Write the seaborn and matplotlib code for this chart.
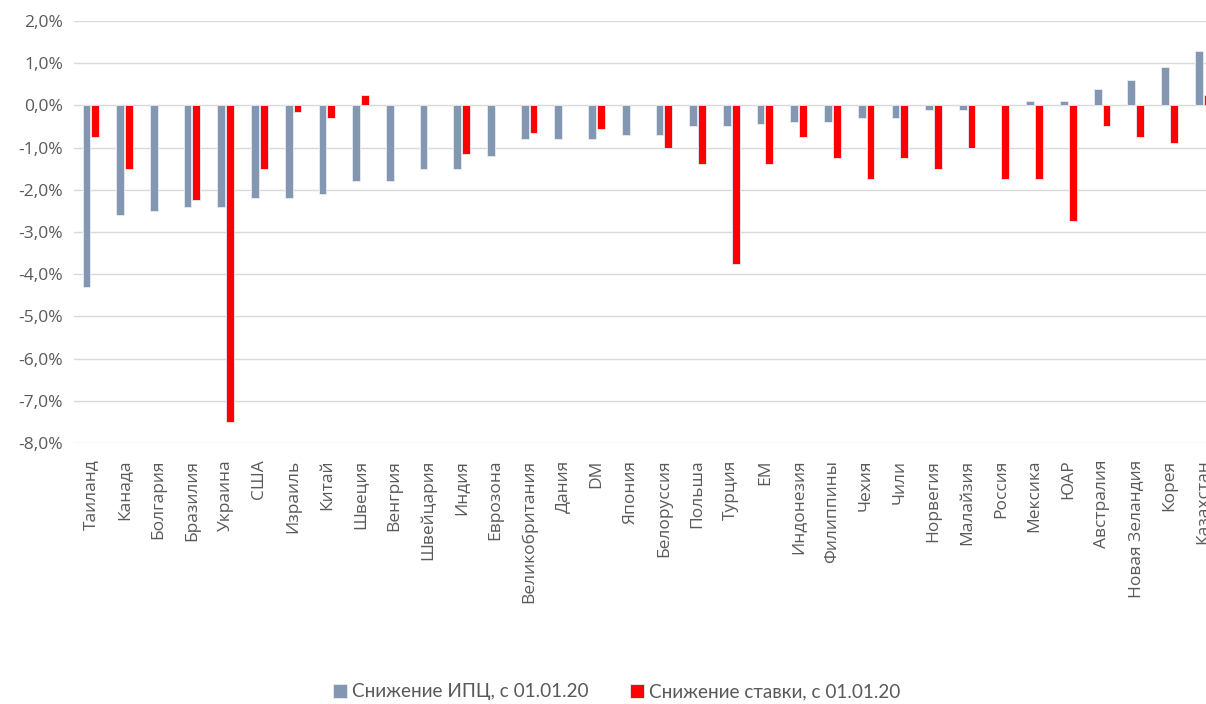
import pandas as pd
import numpy as np
import matplotlib
matplotlib.use("Agg")
import matplotlib.pyplot as plt
from matplotlib.ticker import FuncFormatter
import seaborn as sns

# данные (п.п.)
countries = ["Таиланд", "Канада", "Болгария", "Бразилия", "Украина", "США", "Израиль",
             "Китай", "Швеция", "Венгрия", "Швейцария", "Индия", "Еврозона",
             "Великобритания", "Дания", "DM", "Япония", "Белоруссия", "Польша", "Турция",
             "EM", "Индонезия", "Филиппины", "Чехия", "Чили", "Норвегия", "Малайзия",
             "Россия", "Мексика", "ЮАР", "Австралия", "Новая Зеландия", "Корея", "Казахстан"]
cpi = [-4.3, -2.6, -2.5, -2.4, -2.4, -2.2, -2.2, -2.1, -1.8, -1.8, -1.5, -1.5, -1.2,
       -0.8, -0.8, -0.8, -0.7, -0.7, -0.5, -0.5, -0.43, -0.4, -0.4, -0.3, -0.3, -0.1, -0.1,
       np.nan, 0.1, 0.1, 0.4, 0.6, 0.9, 1.3]
rate = [-0.75, -1.5, np.nan, -2.25, -7.5, -1.5, -0.15, -0.3, 0.25, np.nan, np.nan, -1.15, np.nan,
        -0.65, np.nan, -0.57, np.nan, -1.0, -1.4, -3.75, -1.4, -0.75, -1.25, -1.75, -1.25, -1.5, -1.0,
        -1.75, -1.75, -2.75, -0.5, -0.75, -0.9, 0.25]
series = ["Снижение ИПЦ, с 01.01.20", "Снижение ставки, с 01.01.20"]

df = pd.DataFrame({"country": countries * 2,
                   "value": cpi + rate,
                   "series": [series[0]] * len(countries) + [series[1]] * len(countries)})
df = df.dropna()

sns.set_style("white")
plt.rcParams['font.family'] = ['Open Sans', 'DejaVu Sans']

fig = plt.figure(figsize=(12.06, 7.04), dpi=100)
# правый край оси уходит за рамку, как в оригинале (Казахстан обрезан)
ax = fig.add_axes([74 / 1206, 1 - 443 / 704, 1146 / 1206, 422 / 704])

sns.barplot(data=df, x="country", y="value", hue="series", order=countries,
            hue_order=series, palette=["#8497B0", "#FF0000"], saturation=1,
            width=0.52, gap=0.12, edgecolor="#E8ECF2", linewidth=0.6, ax=ax, legend=True)

ax.set_ylim(-8, 2)
ax.set_yticks(np.arange(-8, 2.1, 1))
ax.yaxis.set_major_formatter(FuncFormatter(lambda v, p: f"{v:.1f}%".replace(".", ",")))
ax.set_xlim(-0.5, len(countries) - 0.5)
ax.grid(axis="y", color="#D9D9D9", linewidth=1)
ax.set_axisbelow(True)
for s in ax.spines.values():
    s.set_visible(False)
ax.set_xlabel("")
ax.set_ylabel("")
ax.tick_params(axis="both", length=0, colors="#595959", labelsize=12.5)
ax.tick_params(axis="x", pad=12)
ax.tick_params(axis="y", pad=8)
plt.setp(ax.get_xticklabels(), rotation=90, ha="center", va="top")

handles, labels = ax.get_legend_handles_labels()
ax.legend_.remove()
fig.legend(handles, labels, loc="center", bbox_to_anchor=(617 / 1206, 1 - 692 / 704),
           ncol=2, frameon=False, handlelength=0.7, handleheight=0.7, handletextpad=0.3,
           columnspacing=2.2, prop={"family": "Lato", "size": 13.6}, labelcolor="#595959")

fig.savefig("out.png", dpi=100)
